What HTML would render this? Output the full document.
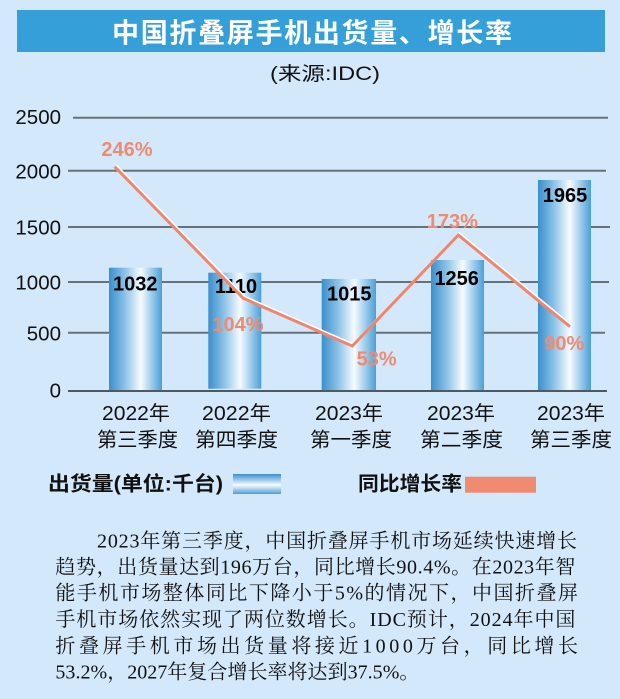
<!DOCTYPE html>
<html><head><meta charset="utf-8">
<style>
html,body{margin:0;padding:0;background:#d3e8fa;}
svg{display:block;}
</style></head>
<body>
<svg width="620" height="699" viewBox="0 0 620 699" xmlns="http://www.w3.org/2000/svg">
<defs>
<linearGradient id="bar" x1="0" y1="0" x2="1" y2="0">
<stop offset="0" stop-color="#3a8fcc"/>
<stop offset="0.3" stop-color="#8cc2e7"/>
<stop offset="0.6" stop-color="#f6fbff"/>
<stop offset="1" stop-color="#4a9fd8"/>
</linearGradient>
<linearGradient id="leg" x1="0" y1="0" x2="0" y2="1">
<stop offset="0" stop-color="#3a8fcc"/>
<stop offset="0.55" stop-color="#f6fbff"/>
<stop offset="1" stop-color="#4a9fd8"/>
</linearGradient>
</defs>
<rect x="0" y="0" width="620" height="699" fill="#d3e8fa"/>
<!-- title -->
<rect x="17" y="10" width="588" height="42" fill="#349fd9"/>
<text x="112" y="42.5" textLength="400" lengthAdjust="spacing" font-family="'Liberation Sans','Noto Sans CJK SC',sans-serif" font-size="27" font-weight="bold" fill="#ffffff">中国折叠屏手机出货量、增长率</text>
<text x="270" y="80" textLength="110" lengthAdjust="spacingAndGlyphs" font-family="'Liberation Sans','Noto Sans CJK SC',sans-serif" font-size="19" fill="#111">(来源:IDC)</text>

<!-- gridlines -->
<g stroke="#66727a" stroke-width="2">
<line x1="73" y1="117.7" x2="608" y2="117.7"/>
<line x1="68" y1="170.7" x2="606" y2="170.7"/>
<line x1="68" y1="227" x2="610" y2="227"/>
<line x1="68" y1="282" x2="609" y2="282"/>
<line x1="68" y1="332.7" x2="605" y2="332.7"/>
<line x1="68" y1="391" x2="607" y2="391" stroke="#4f5a60"/>
</g>
<!-- y labels -->
<g font-family="'Liberation Sans',sans-serif" font-size="20.5" fill="#111" text-anchor="end">
<text x="61" y="124">2500</text>
<text x="61" y="178.3">2000</text>
<text x="61" y="234.6">1500</text>
<text x="61" y="289.3">1000</text>
<text x="61" y="340.3">500</text>
<text x="61" y="397.3">0</text>
</g>

<!-- bars -->
<g fill="url(#bar)">
<rect x="109" y="267.7" width="53" height="122.3"/>
<rect x="208.3" y="272.7" width="53" height="116"/>
<rect x="321.7" y="279" width="54.3" height="111"/>
<rect x="431" y="260" width="53" height="130"/>
<rect x="538" y="180" width="53" height="210"/>
</g>
<!-- bar labels -->
<g font-family="'Liberation Sans',sans-serif" font-size="20" font-weight="bold" fill="#000" text-anchor="middle">
<text x="135.3" y="290.5">1032</text>
<text x="236" y="292.9">1110</text>
<text x="349.3" y="300.5">1015</text>
<text x="456.7" y="284.9">1256</text>
<text x="565" y="202.2">1965</text>
</g>

<!-- line series -->
<polyline points="114.7,166.7 243.3,298.3 352.3,346 458.3,235 570,326.7" fill="none" stroke="#ffffff" stroke-width="3" stroke-linejoin="miter" transform="translate(1,-1.2)"/>
<polyline points="114.7,166.7 243.3,298.3 352.3,346 458.3,235 570,326.7" fill="none" stroke="#ef866c" stroke-width="3" stroke-linejoin="miter"/>
<g font-family="'Liberation Sans',sans-serif" font-size="20" font-weight="bold" fill="#f08a70" text-anchor="middle">
<text x="127" y="156.2">246%</text>
<text x="238" y="331.2">104%</text>
<text x="376.7" y="365.5">53%</text>
<text x="452.3" y="227.9">173%</text>
<text x="564.3" y="349.9">90%</text>
</g>

<!-- x labels -->
<g font-family="'Liberation Sans','Noto Sans CJK SC',sans-serif" font-size="20" fill="#111">
<text x="102" y="420" textLength="68" lengthAdjust="spacingAndGlyphs">2022年</text>
<text x="97" y="446.6" textLength="81" lengthAdjust="spacingAndGlyphs">第三季度</text>
<text x="202" y="420" textLength="69" lengthAdjust="spacingAndGlyphs">2022年</text>
<text x="195" y="446.6" textLength="83" lengthAdjust="spacingAndGlyphs">第四季度</text>
<text x="315" y="420" textLength="68" lengthAdjust="spacingAndGlyphs">2023年</text>
<text x="310" y="446.6" textLength="82" lengthAdjust="spacingAndGlyphs">第一季度</text>
<text x="427" y="420" textLength="68" lengthAdjust="spacingAndGlyphs">2023年</text>
<text x="420" y="446.6" textLength="83" lengthAdjust="spacingAndGlyphs">第二季度</text>
<text x="537" y="420" textLength="68" lengthAdjust="spacingAndGlyphs">2023年</text>
<text x="530" y="446.6" textLength="82" lengthAdjust="spacingAndGlyphs">第三季度</text>
</g>

<!-- legend -->
<g font-family="'Liberation Sans','Noto Sans CJK SC',sans-serif" font-size="20" font-weight="bold" fill="#111">
<text x="48" y="490.6" textLength="175" lengthAdjust="spacingAndGlyphs">出货量(单位:千台)</text>
<text x="358" y="490.6" textLength="104" lengthAdjust="spacingAndGlyphs">同比增长率</text>
</g>
<rect x="233" y="474" width="48" height="20" fill="url(#leg)"/>
<rect x="465" y="476.7" width="71" height="16" fill="#f08a70"/>

<!-- body paragraph -->
<g font-family="'Liberation Serif','Noto Serif CJK SC',serif" font-size="20" fill="#111">
<text x="97" y="547.3" textLength="480" lengthAdjust="spacing">2023年第三季度，中国折叠屏手机市场延续快速增长</text>
<text x="55.4" y="573.5" textLength="520" lengthAdjust="spacing">趋势，出货量达到196万台，同比增长90.4%。在2023年智</text>
<text x="55.4" y="599.7" textLength="522.6" lengthAdjust="spacing">能手机市场整体同比下降小于5%的情况下，中国折叠屏</text>
<text x="55.4" y="625.9" textLength="520" lengthAdjust="spacing">手机市场依然实现了两位数增长。IDC预计，2024年中国</text>
<text x="55.4" y="652.6" textLength="522.6" lengthAdjust="spacing">折叠屏手机市场出货量将接近1000万台，同比增长</text>
<text x="55.4" y="678.3" textLength="364" lengthAdjust="spacing">53.2%，2027年复合增长率将达到37.5%。</text>
</g>
</svg>
</body></html>
